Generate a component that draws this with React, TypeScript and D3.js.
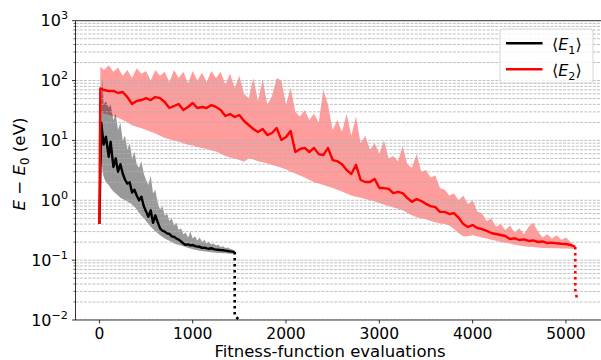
import React from "react";
import * as d3 from "d3";

// Fitness-function evaluation counts and energy gaps (eV) for the two runs
const redX = [0, 10, 50, 100, 150, 200, 250, 300, 350, 400,
  450, 500, 550, 600, 650, 700, 750, 800, 850, 900,
  950, 1000, 1050, 1100, 1150, 1200, 1250, 1300, 1350, 1400,
  1450, 1500, 1550, 1600, 1650, 1700, 1750, 1800, 1850, 1900,
  1950, 2000, 2050, 2100, 2150, 2200, 2250, 2300, 2350, 2400,
  2450, 2500, 2550, 2600, 2650, 2700, 2750, 2800, 2850, 2900,
  2950, 3000, 3050, 3100, 3150, 3200, 3250, 3300, 3350, 3400,
  3450, 3500, 3550, 3600, 3650, 3700, 3750, 3800, 3850, 3900,
  3950, 4000, 4050, 4100, 4150, 4200, 4250, 4300, 4350, 4400,
  4450, 4500, 4550, 4600, 4650, 4700, 4750, 4800, 4850, 4900,
  4950, 5000, 5050, 5100];
const redMean = [0.4, 74, 69.5, 67, 67, 62, 64.4, 53, 40.6, 45.6,
  47.3, 51, 47.3, 53, 51, 43.8, 34.8, 37.6, 40.6, 32.2,
  36.2, 42.2, 34.8, 36.2, 34.8, 39, 36.2, 32.2, 25.6, 27.6,
  24.6, 26.6, 21.1, 18.1, 15.5, 13.8, 15.5, 12.3, 13.3, 16.1,
  10.2, 11.4, 14.4, 6.4, 7.2, 7.5, 6.4, 7.5, 5.9, 5.7,
  7.5, 4.7, 4.5, 4.0, 3.2, 2.75, 3.9, 2.18, 2.02, 2.02,
  2.27, 1.6, 1.6, 1.55, 1.32, 1.38, 1.32, 1.09, 0.94, 1.05,
  0.97, 0.87, 0.8, 0.77, 0.64, 0.64, 0.59, 0.61, 0.51, 0.4,
  0.358, 0.386, 0.344, 0.331, 0.307, 0.284, 0.273, 0.263, 0.253, 0.225,
  0.232, 0.217, 0.222, 0.209, 0.213, 0.201, 0.205, 0.193, 0.196, 0.191,
  0.188, 0.186, 0.179, 0.166];
const redLow = [0.4, 30, 28, 27, 25, 24, 22, 20, 18, 17,
  16, 15, 14, 13, 12, 11, 10.5, 10, 9.5, 9,
  8.5, 8.2, 7.8, 7.5, 7.2, 6.8, 6.5, 6.0, 5.5, 5.2,
  5.0, 4.7, 4.4, 5.0, 4.8, 4.5, 4.3, 4.1, 3.9, 3.7,
  3.5, 3.3, 3.0, 2.8, 2.6, 2.4, 2.2, 2.0, 1.9, 1.8,
  1.7, 1.6, 1.5, 1.4, 1.3, 1.2, 1.15, 1.1, 1.05, 1.0,
  0.95, 0.9, 0.85, 0.8, 0.76, 0.72, 0.68, 0.62, 0.56, 0.52,
  0.5, 0.48, 0.45, 0.43, 0.41, 0.4, 0.38, 0.33, 0.28, 0.25,
  0.25, 0.26, 0.25, 0.24, 0.23, 0.22, 0.21, 0.2, 0.195, 0.19,
  0.18, 0.175, 0.17, 0.168, 0.165, 0.163, 0.16, 0.16, 0.158, 0.158,
  0.157, 0.156, 0.155, 0.155];
const redHigh = [0.4, 170, 150, 180, 140, 165, 120, 150, 110, 160,
  130, 145, 100, 150, 120, 140, 95, 150, 110, 140,
  90, 145, 100, 135, 95, 145, 110, 140, 85, 130,
  75, 120, 60, 50, 110, 45, 105, 40, 55, 110,
  100, 40, 75, 30, 25, 32, 22, 28, 20, 70,
  40, 15, 22, 14, 28, 12, 25, 9, 12, 7,
  9, 6, 10, 5, 5.5, 4.5, 8, 4, 3.5, 6,
  3, 3.2, 2.4, 2.6, 1.6, 1.5, 1.2, 1.3, 1.0, 1.2,
  0.85, 1.0, 0.65, 0.6, 0.45, 0.5, 0.36, 0.4, 0.32, 0.38,
  0.29, 0.34, 0.27, 0.36, 0.42, 0.3, 0.24, 0.27, 0.23, 0.26,
  0.22, 0.24, 0.2, 0.17];

const blackX = [0, 20, 35, 45, 70, 100, 120, 150, 175, 200,
  225, 250, 275, 300, 325, 350, 375, 400, 425, 450,
  475, 500, 525, 550, 575, 600, 625, 650, 675, 700,
  725, 750, 775, 800, 825, 850, 875, 900, 925, 950,
  975, 1000, 1025, 1050, 1075, 1100, 1125, 1150, 1175, 1200,
  1225, 1250, 1275, 1300, 1325, 1350, 1375, 1400, 1425, 1450];
const blackMean = [0.4, 19.8, 12, 8.5, 11.5, 5.3, 9.5, 3.6, 5.0, 3.0,
  4.0, 2.8, 2.2, 1.9, 2.0, 1.35, 1.5, 1.2, 1.0, 1.15,
  0.8, 0.65, 0.53, 0.68, 0.42, 0.56, 0.43, 0.34, 0.31, 0.3,
  0.28, 0.275, 0.25, 0.245, 0.23, 0.22, 0.205, 0.19, 0.18, 0.183,
  0.176, 0.179, 0.171, 0.168, 0.167, 0.16, 0.162, 0.157, 0.155, 0.158,
  0.153, 0.15, 0.149, 0.147, 0.146, 0.144, 0.142, 0.14, 0.139, 0.137];
const blackHigh = [0.4, 50, 110, 40, 45, 35, 40, 22, 28, 15,
  20, 10, 12, 7, 9, 5, 6.5, 4, 3.5, 4.5,
  2.8, 2.2, 1.8, 2.6, 1.3, 1.5, 0.9, 0.7, 0.8, 0.55,
  0.6, 0.45, 0.5, 0.38, 0.42, 0.32, 0.34, 0.27, 0.29, 0.24,
  0.3, 0.23, 0.25, 0.21, 0.24, 0.2, 0.22, 0.19, 0.2, 0.185,
  0.19, 0.175, 0.18, 0.165, 0.17, 0.16, 0.162, 0.155, 0.15, 0.14];
const blackLow = [0.4, 5, 3, 2.5, 2.0, 1.8, 1.6, 1.4, 1.3, 1.2,
  1.1, 1.05, 1.0, 0.95, 0.9, 0.85, 0.78, 0.7, 0.62, 0.55,
  0.5, 0.45, 0.4, 0.36, 0.33, 0.3, 0.28, 0.26, 0.245, 0.23,
  0.22, 0.21, 0.2, 0.19, 0.185, 0.18, 0.175, 0.17, 0.165, 0.16,
  0.156, 0.152, 0.149, 0.146, 0.144, 0.142, 0.14, 0.139, 0.137, 0.136,
  0.134, 0.133, 0.132, 0.131, 0.13, 0.13, 0.129, 0.128, 0.128, 0.127];

// Final drop after the last evaluation (dotted)
const blackTailX = [1450, 1450, 1505];
const blackTailY = [0.137, 0.0118, 0.0098];
const redTailX = [5100, 5100, 5120];
const redTailY = [0.166, 0.032, 0.022];

const xTicks = [0, 1000, 2000, 3000, 4000, 5000];
const yExponents = [-2, -1, 0, 1, 2, 3];

const FONT = "DejaVu Sans";

type Pt = { x: number; m: number; lo: number; hi: number };

export default function App() {
  const L = 75.5, R = 601.5, T = 20.7, B = 320;
  const x = d3.scaleLinear().domain([-256, 5381]).range([L, R]);
  const y = d3.scaleLog().domain([0.01, 1000]).range([B, T]);

  const red: Pt[] = redX.map((v, i) => ({ x: v, m: redMean[i], lo: redLow[i], hi: redHigh[i] }));
  const black: Pt[] = blackX.map((v, i) => ({ x: v, m: blackMean[i], lo: blackLow[i], hi: blackHigh[i] }));

  const band = d3.area<Pt>().x(d => x(d.x)).y0(d => y(d.lo)).y1(d => y(d.hi));
  const mean = d3.line<Pt>().x(d => x(d.x)).y(d => y(d.m));
  const tail = d3.line<[number, number]>().x(d => x(d[0])).y(d => y(d[1]));

  const minor: number[] = [];
  for (let k = -2; k <= 2; k++) for (let m = 2; m <= 9; m++) minor.push(m * Math.pow(10, k));
  const major = yExponents.map(e => Math.pow(10, e));
  const gridVals = [...major, ...minor];

  return (
    <svg width={601} height={360} style={{ position: "absolute", left: 0, top: 0, background: "#fff" }}
      fontFamily={FONT}>
      <defs>
        <clipPath id="plotArea">
          <rect x={L} y={T} width={R - L} height={B - T} />
        </clipPath>
      </defs>
      <rect x={0} y={0} width={601} height={360} fill="#fff" />
      <g clipPath="url(#plotArea)">
        <path d={band(red) || ""} fill="#ff0000" fillOpacity={0.39} stroke="none" />
        <path d={band(black) || ""} fill="#000000" fillOpacity={0.4} stroke="none" />
        {gridVals.map((v, i) => (
          <line key={"g" + i} x1={L} x2={R} y1={y(v)} y2={y(v)} stroke="#b0b0b0" strokeWidth={0.8}
            strokeDasharray="2.96,1.28" />
        ))}
        <path d={mean(black) || ""} fill="none" stroke="#000" strokeWidth={2.4} strokeLinejoin="round" />
        <path d={tail(blackTailX.map((v, i) => [v, blackTailY[i]] as [number, number])) || ""}
          fill="none" stroke="#000" strokeWidth={2.6} strokeDasharray="2.6,3.4" />
        <path d={mean(red) || ""} fill="none" stroke="#ff0000" strokeWidth={2.4} strokeLinejoin="round" />
        <path d={tail(redTailX.map((v, i) => [v, redTailY[i]] as [number, number])) || ""}
          fill="none" stroke="#ff0000" strokeWidth={2.6} strokeDasharray="2.6,3.4" />
      </g>
      {/* spines */}
      <g stroke="#000" strokeWidth={0.8} fill="none">
        <line x1={L} x2={L} y1={T} y2={B} />
        <line x1={L} x2={R} y1={B} y2={B} />
        <line x1={L} x2={R} y1={T} y2={T} />
        <line x1={R} x2={R} y1={T} y2={B} />
      </g>
      {/* x axis */}
      {xTicks.map(t => (
        <g key={"x" + t}>
          <line x1={x(t)} x2={x(t)} y1={B} y2={B + 3.5} stroke="#000" strokeWidth={0.8} />
          <text x={x(t)} y={338.5} textAnchor="middle" fontSize={15.5} fill="#000">{t}</text>
        </g>
      ))}
      {/* y axis */}
      {minor.map((v, i) => (
        <line key={"ym" + i} x1={L - 2} x2={L} y1={y(v)} y2={y(v)} stroke="#000" strokeWidth={0.6} />
      ))}
      {yExponents.map(e => {
        const yy = y(Math.pow(10, e));
        return (
          <g key={"y" + e}>
            <line x1={L - 3.5} x2={L} y1={yy} y2={yy} stroke="#000" strokeWidth={0.8} />
            <text x={68} y={yy + 5.5} textAnchor="end" fontSize={16} fill="#000">
              <tspan>10</tspan>
              <tspan fontSize={11.2} dy={-7}>{e < 0 ? "\u2212" + Math.abs(e) : String(e)}</tspan>
            </text>
          </g>
        );
      })}
      {/* axis labels */}
      <text x={330} y={357} textAnchor="middle" fontSize={16.5} fill="#000">Fitness-function evaluations</text>
      <text transform="translate(25,164) rotate(-90)" textAnchor="middle" fontSize={16.7} fill="#000"
        style={{ whiteSpace: "pre" }}>
        <tspan fontStyle="italic">E</tspan>
        <tspan>{" \u2212 "}</tspan>
        <tspan fontStyle="italic">E</tspan>
        <tspan fontSize={11.7} dy={3.6}>0</tspan>
        <tspan dy={-3.6}>{" (eV)"}</tspan>
      </text>
      {/* legend */}
      <g>
        <rect x={500} y={29} width={93} height={54} rx={3} fill="#fff" fillOpacity={0.8} stroke="#cccccc"
          strokeWidth={0.8} />
        <line x1={506} x2={542.5} y1={43.3} y2={43.3} stroke="#000" strokeWidth={2.4} />
        <line x1={506} x2={542.5} y1={69.3} y2={69.3} stroke="#ff0000" strokeWidth={2.4} />
        {[["1", 43.3], ["2", 69.3]].map(([s, yy]) => (
          <text key={"lg" + s} x={552} y={(yy as number) + 7} fontSize={16} fill="#000">
            <tspan>{"\u27E8"}</tspan>
            <tspan fontStyle="italic">E</tspan>
            <tspan fontSize={11.2} dy={3.4}>{s}</tspan>
            <tspan dy={-3.4}>{"\u27E9"}</tspan>
          </text>
        ))}
      </g>
    </svg>
  );
}
